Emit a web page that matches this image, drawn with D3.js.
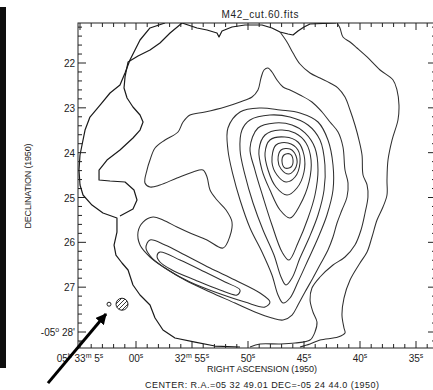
<!DOCTYPE html>
<html lang="en">
<head>
<meta charset="UTF-8">
<title>M42_cut.60.fits</title>
<script src="https://d3js.org/d3.v7.min.js"></script>
<style>
    body { margin: 0; background: #fff; }
    svg { display: block; font-family: "Liberation Sans", Arial, sans-serif; }
    .contour { fill: none; stroke: #303030; stroke-width: 1.05; }
    .coast { fill: none; stroke: #1a1a1a; stroke-width: 1.2; stroke-linejoin: round; }
    .frame { fill: none; stroke: #222; stroke-width: 1; }
    .tick { stroke: #222; stroke-width: 1; }
    .lbl { font-size: 10px; fill: #222; }
    .sup { font-size: 7px; }
</style>
</head>
<body>
<div id="chart"></div>
<script>
// ---- data: RA in seconds of 05h32m (65 = 05h33m05s), Dec in arcmin of -05deg
const raMajor = [65, 60, 55, 50, 45, 40, 35];
const raLabels = [["05","h"," 33","m"," 5","s"], ["00","s"], ["32","m"," 55","s"], ["50","s"], ["45","s"], ["40","s"], ["35","s"]];
const decMajor = [22, 23, 24, 25, 26, 27, 28];
const decLabels = [["22"], ["23"], ["24"], ["25"], ["26"], ["27"], ["-05","o"," 28'"]];

// open contours (edge of the map)
const coastLeft = [[57.41,21.108],[58.75,21.219],[59.64,21.487],[60.09,21.710],[60.54,21.933],[60.98,22.223],[61.43,22.491],[62.32,22.669],[63.21,22.937],[64.11,23.205],[64.55,23.495],[64.82,23.829],[65.00,24.052],[65.09,24.387],[65.00,24.721],[64.73,24.944],[63.93,25.168],[62.95,25.346],[61.70,25.458],[61.70,25.770],[61.96,26.060],[61.79,26.283],[61.25,26.461],[60.71,26.617],[60.27,26.952],[59.64,27.175],[58.75,27.398],[58.30,27.688],[57.59,27.956],[56.52,28.134],[54.73,28.224],[52.95,28.313],[50.71,28.335]];
const coastLeft2 = [[55.89,21.108],[56.96,21.331],[57.86,21.554],[58.75,21.710],[59.82,21.844],[60.71,21.978],[60.98,22.312],[61.07,22.558],[60.80,22.781],[60.27,22.981],[59.64,23.160],[59.37,23.316],[59.64,23.495],[60.27,23.673],[61.43,23.941],[62.59,24.164],[63.30,24.387],[63.30,24.610],[62.32,24.632],[60.98,24.654],[60.18,24.833],[59.91,25.056],[60.27,25.257],[61.43,25.413]];
const coastTop = [[55.89,21.108],[54.55,21.219],[53.66,21.264],[52.77,21.331],[52.59,21.420],[52.32,21.286],[51.43,21.197],[50.27,21.152],[48.75,21.152],[47.86,21.219],[47.14,21.309],[46.43,21.353],[45.98,21.375],[45.54,21.286],[45.00,21.197],[44.46,21.130],[42.14,21.108]];
const outerRight = [[42.05,21.108],[41.79,21.219],[41.52,21.420],[40.89,21.532],[40.27,21.665],[39.37,21.866],[38.21,22.156],[37.05,22.379],[36.70,22.602],[36.52,22.937],[36.61,23.271],[37.14,23.718],[37.50,24.164],[37.59,24.610],[37.59,24.944],[37.95,25.212],[38.48,25.502],[38.93,25.881],[39.37,26.216],[40.00,26.461],[40.89,26.841],[41.43,27.242],[41.61,27.621],[41.43,27.911],[41.34,28.023],[41.96,28.112],[43.57,28.179],[44.46,28.268],[45.36,28.335]];
const secondRight = [[47.14,21.309],[46.52,21.531],[45.98,21.777],[45.36,22.022],[44.46,22.223],[43.57,22.335],[42.68,22.446],[41.96,22.558],[41.34,22.758],[40.89,23.048],[40.45,23.383],[40.09,23.718],[39.82,24.052],[39.73,24.498],[39.37,24.721],[39.29,24.989],[39.55,25.346],[39.91,25.725],[40.45,26.060],[41.34,26.327],[42.41,26.506],[43.57,26.773],[44.29,27.019],[44.46,27.287],[44.20,27.554],[43.84,27.777],[44.02,28.000],[44.46,28.179],[45.80,28.246],[47.14,28.268],[48.93,28.268],[49.82,28.335]];

// closed contours
const bigContour = [[48.21,22.112],[47.86,22.201],[47.41,22.379],[46.87,22.535],[46.25,22.602],[45.36,22.714],[44.29,22.870],[43.39,23.093],[42.68,23.316],[41.96,23.539],[41.52,23.874],[41.34,24.387],[41.07,24.677],[41.16,24.989],[41.61,25.279],[42.05,25.569],[42.41,25.881],[42.86,26.171],[43.48,26.461],[44.20,26.796],[44.91,27.108],[45.54,27.398],[46.07,27.621],[46.87,27.733],[47.86,27.688],[49.38,27.554],[51.16,27.354],[53.39,27.108],[55.63,26.841],[57.41,26.573],[58.75,26.327],[59.64,26.060],[59.82,25.770],[59.37,25.547],[58.48,25.435],[57.59,25.502],[56.34,25.659],[55.18,25.792],[53.66,25.948],[52.23,26.127],[51.61,25.859],[51.43,25.547],[51.96,25.279],[52.77,25.056],[53.39,24.833],[53.66,24.543],[54.02,24.387],[54.91,24.431],[56.34,24.565],[57.86,24.721],[58.75,24.766],[59.20,24.677],[59.02,24.387],[58.75,24.164],[58.30,23.896],[57.41,23.718],[56.25,23.539],[55.80,23.316],[55.18,23.160],[53.84,23.093],[52.05,22.981],[50.71,22.870],[49.64,22.758],[49.11,22.602],[48.84,22.335],[48.57,22.156]];
const arcMid = [[58.75,25.948],[57.41,26.060],[55.63,26.283],[53.39,26.573],[51.16,26.841],[48.93,27.131],[48.04,27.331],[48.48,27.443],[50.27,27.331],[52.95,27.108],[55.18,26.885],[57.14,26.617],[58.57,26.350],[59.11,26.127]];
const arcInner = [[57.86,26.216],[56.07,26.394],[53.84,26.662],[52.05,26.885],[50.71,27.064],[50.98,27.175],[52.50,27.064],[54.73,26.841],[56.79,26.617],[57.86,26.439],[58.12,26.305]];
const ring8 = [[50.71,23.093],[48.93,23.004],[47.14,23.048],[45.36,23.115],[43.75,23.316],[42.86,23.718],[42.41,24.275],[42.41,24.833],[42.95,25.391],[43.75,25.904],[44.64,26.394],[45.54,26.885],[46.25,27.242],[46.87,27.354],[47.32,27.175],[47.86,26.729],[48.75,26.216],[49.82,25.681],[50.71,25.056],[51.34,24.498],[51.79,23.941],[51.79,23.450]];
const ring7 = [[49.82,23.271],[48.04,23.160],[46.25,23.205],[44.64,23.383],[43.57,23.718],[43.13,24.275],[43.21,24.833],[43.75,25.391],[44.55,25.904],[45.36,26.350],[46.07,26.796],[46.61,26.952],[47.05,26.773],[47.68,26.283],[48.66,25.725],[49.55,25.123],[50.27,24.498],[50.71,23.941],[50.54,23.495]];
const ring6 = [[49.11,23.450],[47.59,23.338],[46.07,23.383],[44.91,23.561],[44.02,23.896],[43.75,24.387],[44.02,24.944],[44.64,25.458],[45.54,26.015],[46.34,26.394],[46.96,26.216],[47.86,25.614],[48.66,24.989],[49.38,24.387],[49.82,23.896]];
const ring5 = [[48.48,23.606],[47.14,23.495],[45.80,23.561],[44.82,23.784],[44.37,24.164],[44.55,24.654],[45.36,25.168],[46.25,25.458],[47.14,25.279],[48.04,24.833],[48.75,24.387],[49.02,23.941]];
const ring4 = [[48.04,23.718],[46.70,23.651],[45.54,23.762],[45.00,24.052],[45.00,24.431],[45.63,24.788],[46.52,24.944],[47.50,24.766],[48.21,24.387],[48.48,24.008]];
const ring3 = [[47.50,23.829],[46.43,23.784],[45.54,23.941],[45.36,24.231],[45.80,24.543],[46.61,24.654],[47.41,24.498],[47.86,24.208]];
const ring2 = [[47.05,23.941],[46.25,23.918],[45.71,24.075],[45.71,24.320],[46.34,24.476],[47.05,24.364],[47.32,24.164]];
const ring1 = [[46.79,24.052],[46.25,24.030],[45.98,24.164],[46.16,24.320],[46.70,24.342],[46.96,24.208]];

// beam and the pointer drawn on the image
const beamSmall = [62.41, 27.38];
const beamBig = [61.25, 27.38];
const arrowPath = [[67.86, 29.14], [62.68, 27.60]];

// ---- layout
const width = 433, height = 390;
const svg = d3.select("#chart").append("svg")
    .attr("width", width)
    .attr("height", height);

const x = d3.scaleLinear().domain([65, 35]).range([80, 416]);
const y = d3.scaleLinear().domain([22, 28]).range([63, 332]);
const frame = { left: 78, right: 436, top: 23, bottom: 348 };

// dark strip on the left edge
svg.append("rect")
    .attr("x", 0).attr("y", 7)
    .attr("width", 6).attr("height", 361)
    .attr("fill", "#0e0e0e");

const defs = svg.append("defs");
defs.append("clipPath").attr("id", "plot-clip")
    .append("rect")
    .attr("x", frame.left).attr("y", frame.top)
    .attr("width", frame.right - frame.left)
    .attr("height", frame.bottom - frame.top);

const hatch = defs.append("pattern")
    .attr("id", "hatch")
    .attr("patternUnits", "userSpaceOnUse")
    .attr("width", 4).attr("height", 4);
hatch.append("path")
    .attr("d", "M-1,1 l2,-2 M0,4 l4,-4 M3,5 l2,-2")
    .attr("stroke", "#222").attr("stroke-width", 0.9);

defs.append("marker")
    .attr("id", "arrowhead")
    .attr("markerUnits", "userSpaceOnUse")
    .attr("viewBox", "0 0 10 10")
    .attr("refX", 9).attr("refY", 5)
    .attr("markerWidth", 11).attr("markerHeight", 11)
    .attr("orient", "auto")
    .append("path")
    .attr("d", "M0,0 L10,5 L0,10 z")
    .attr("fill", "#000");

// ---- contours
const openLine = d3.line().x(d => x(d[0])).y(d => y(d[1]));
const smoothOpen = d3.line().x(d => x(d[0])).y(d => y(d[1])).curve(d3.curveCatmullRom.alpha(0.5));
const smoothClosed = d3.line().x(d => x(d[0])).y(d => y(d[1])).curve(d3.curveCatmullRomClosed.alpha(0.5));

const plot = svg.append("g").attr("clip-path", "url(#plot-clip)");

[coastLeft, coastLeft2, coastTop].forEach(c => {
    plot.append("path").datum(c).attr("class", "coast").attr("d", openLine);
});
[outerRight, secondRight].forEach(c => {
    plot.append("path").datum(c).attr("class", "contour").attr("d", smoothOpen);
});
[bigContour, arcMid, arcInner, ring8, ring7, ring6, ring5, ring4, ring3, ring2, ring1].forEach(c => {
    plot.append("path").datum(c).attr("class", "contour").attr("d", smoothClosed);
});

// ---- frame and ticks
svg.append("rect").attr("class", "frame")
    .attr("x", frame.left).attr("y", frame.top)
    .attr("width", frame.right - frame.left)
    .attr("height", frame.bottom - frame.top);

const raTicks = d3.range(34, 66).filter(v => x(v) >= frame.left && x(v) <= frame.right);
const decTicks = d3.range(106, 142).map(v => v / 5).filter(v => y(v) >= frame.top && y(v) <= frame.bottom);
const tl = v => (v % 5 === 0) ? 7 : 4;
const tlDec = v => Math.abs(v - Math.round(v)) < 1e-6 ? 8 : 4;

const ticks = svg.append("g");
raTicks.forEach(v => {
    ticks.append("line").attr("class", "tick")
        .attr("x1", x(v)).attr("x2", x(v))
        .attr("y1", frame.top).attr("y2", frame.top + tl(v));
    ticks.append("line").attr("class", "tick")
        .attr("x1", x(v)).attr("x2", x(v))
        .attr("y1", frame.bottom).attr("y2", frame.bottom - tl(v));
});
decTicks.forEach(v => {
    ticks.append("line").attr("class", "tick")
        .attr("x1", frame.left).attr("x2", frame.left + tlDec(v))
        .attr("y1", y(v)).attr("y2", y(v));
    ticks.append("line").attr("class", "tick")
        .attr("x1", frame.right).attr("x2", frame.right - tlDec(v))
        .attr("y1", y(v)).attr("y2", y(v));
});

// tick labels with superscripts
function addParts(t, parts) {
    parts.forEach((p, i) => {
        const sp = t.append("tspan").text(p);
        if (i % 2 === 1) sp.attr("class", "sup").attr("dy", -4);
        else if (i > 0) sp.attr("dy", 4);
    });
}
raMajor.forEach((v, i) => {
    const t = svg.append("text").attr("class", "lbl")
        .attr("x", x(v)).attr("y", 362)
        .attr("text-anchor", "middle");
    addParts(t, raLabels[i]);
});
decMajor.forEach((v, i) => {
    const t = svg.append("text").attr("class", "lbl")
        .attr("x", 75).attr("y", y(v) + 4)
        .attr("text-anchor", "end");
    addParts(t, decLabels[i]);
});

// ---- titles
svg.append("text").attr("class", "lbl")
    .attr("x", 260).attr("y", 18)
    .attr("text-anchor", "middle")
    .attr("textLength", 77)
    .text("M42_cut.60.fits");

svg.append("text").attr("class", "lbl")
    .attr("transform", "translate(31,186) rotate(-90)")
    .attr("text-anchor", "middle")
    .style("font-size", "9px")
    .attr("textLength", 85)
    .text("DECLINATION (1950)");

svg.append("text").attr("class", "lbl")
    .attr("x", 262).attr("y", 372)
    .attr("text-anchor", "middle")
    .style("font-size", "9px")
    .attr("textLength", 110)
    .text("RIGHT ASCENSION (1950)");

svg.append("text").attr("class", "lbl")
    .attr("x", 262).attr("y", 388)
    .attr("text-anchor", "middle")
    .style("font-size", "9px")
    .attr("textLength", 234)
    .text("CENTER: R.A.=05 32 49.01  DEC=-05 24 44.0 (1950)");

// ---- beam and arrow
svg.append("circle")
    .attr("cx", x(beamSmall[0])).attr("cy", y(beamSmall[1])).attr("r", 2)
    .attr("fill", "none").attr("stroke", "#222");
svg.append("circle")
    .attr("cx", x(beamBig[0])).attr("cy", y(beamBig[1])).attr("r", 6)
    .attr("fill", "url(#hatch)").attr("stroke", "#222");

svg.append("path")
    .datum(arrowPath)
    .attr("d", d3.line().x(d => x(d[0])).y(d => y(d[1])))
    .attr("stroke", "#000").attr("stroke-width", 3)
    .attr("fill", "none")
    .attr("marker-end", "url(#arrowhead)");
</script>
</body>
</html>
